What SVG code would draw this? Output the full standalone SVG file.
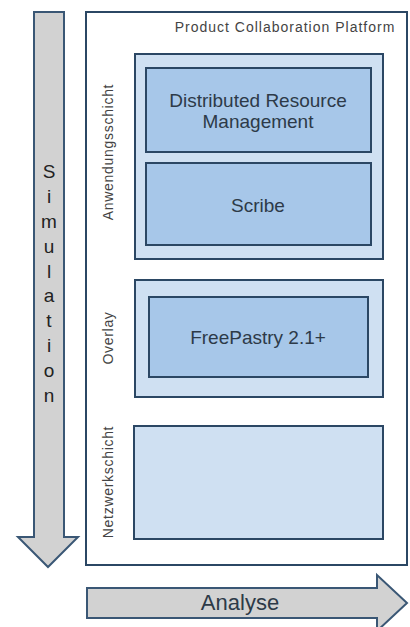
<svg xmlns="http://www.w3.org/2000/svg" width="410" height="627" viewBox="0 0 410 627">
<style>
.arrow{fill:#d2d2d2;stroke:#3a5775;stroke-width:2}
.outer{fill:#cfe0f2;stroke:#2b4764;stroke-width:2}
.inner{fill:#a7c7e9;stroke:#2b4764;stroke-width:2}
.t{font-family:"Liberation Sans",Arial,sans-serif;fill:#2d3a48;text-anchor:middle}
.lbl{font-size:14px;letter-spacing:0.7px;fill:#444}
.box{font-size:19px}
.sim{font-size:19px;fill:#222}
</style>
<rect width="410" height="627" fill="#fff"/>
<g id="simulation">
<path class="arrow" d="M34,12 H64 V537 H78 L48,567 L18,537 H34 Z"/>
<g class="t sim">
<text x="49" y="178">S</text><text x="49" y="203">i</text><text x="49" y="228">m</text><text x="49" y="253">u</text><text x="49" y="278">l</text><text x="49" y="302">a</text><text x="49" y="327">t</text><text x="49" y="352">i</text><text x="49" y="377">o</text><text x="49" y="402">n</text>
</g>
</g>
<g id="platform">
<rect x="86" y="12" width="321" height="553" fill="#fff" stroke="#2b4764" stroke-width="2"/>
<text class="t lbl" x="285" y="32" style="letter-spacing:1px">Product Collaboration Platform</text>
</g>
<g id="anwendungsschicht">
<rect class="outer" x="135" y="54" width="248" height="205"/>
<text class="t lbl" transform="translate(113,152) rotate(-90)">Anwendungsschicht</text>
</g>
<g id="drm">
<rect class="inner" x="146" y="68" width="225" height="84"/>
<text class="t box" x="258" y="107">Distributed Resource</text>
<text class="t box" x="258" y="128">Management</text>
</g>
<g id="scribe">
<rect class="inner" x="146" y="163" width="225" height="82"/>
<text class="t box" x="258" y="212">Scribe</text>
</g>
<g id="overlay">
<rect class="outer" x="135" y="280" width="248" height="117"/>
<text class="t lbl" transform="translate(113,338) rotate(-90)">Overlay</text>
</g>
<g id="freepastry">
<rect class="inner" x="149" y="297" width="219" height="80"/>
<text class="t box" x="258" y="344">FreePastry 2.1+</text>
</g>
<g id="netzwerkschicht">
<rect class="outer" x="134" y="426" width="249" height="113"/>
<text class="t lbl" transform="translate(113,482) rotate(-90)">Netzwerkschicht</text>
</g>
<g id="analyse">
<path class="arrow" d="M87,588 H377 V575 L407,603 L377,631 V618 H87 Z"/>
<text class="t" x="240" y="610" font-size="22" fill="#222">Analyse</text>
</g>
<g id="connectors"></g>
</svg>
